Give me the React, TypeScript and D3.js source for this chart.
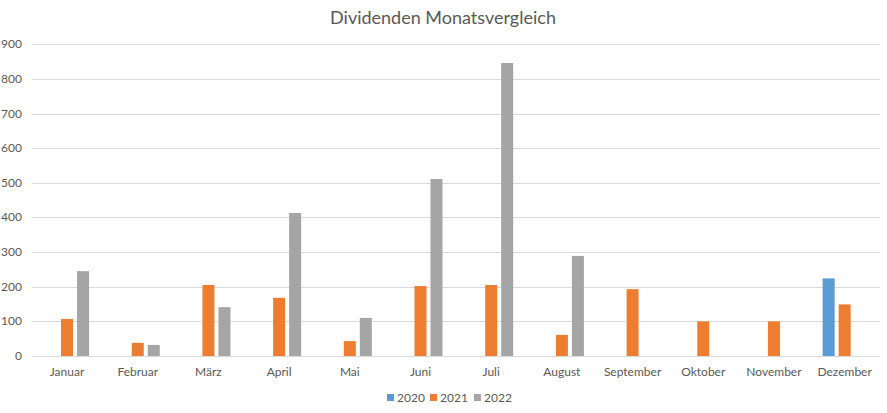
import React from "react";
import * as d3 from "d3";

const months = ["Januar", "Februar", "März", "April", "Mai", "Juni", "Juli", "August", "September", "Oktober", "November", "Dezember"];
const seriesNames = ["2020", "2021", "2022"];
const values2020: (number | null)[] = [null, null, null, null, null, null, null, null, null, null, null, 224];
const values2021: (number | null)[] = [107, 38, 205, 168, 43, 202, 205, 61, 193, 100, 100, 149];
const values2022: (number | null)[] = [245, 32, 141, 413, 110, 511, 846, 289, null, null, null, null];
const yTicks = [0, 100, 200, 300, 400, 500, 600, 700, 800, 900];
const colors = ["#5b9bd5", "#ed7d31", "#a5a5a5"];

const W = 887, H = 413;
const FONT = "Lato, 'Open Sans', sans-serif";

export default function App() {
  const seriesValues = [values2020, values2021, values2022];
  const x0 = d3.scaleBand<string>().domain(months).range([31.7, 880]).paddingInner(0.377).paddingOuter(0.1885);
  const x1 = d3.scaleBand<string>().domain(seriesNames).range([0, x0.bandwidth()]).paddingInner(0.25).paddingOuter(0);
  const y = d3.scaleLinear().domain([0, 900]).range([356, 44.3]);

  return (
    <svg width={W} height={H} style={{ position: "absolute", left: 0, top: 0, background: "#fff" }}>
      <rect x={0} y={0} width={W} height={H} fill="#fff" />
      <text x={443} y={24} textAnchor="middle" fontFamily={FONT} fontSize={18} fill="#595959">Dividenden Monatsvergleich</text>
      {yTicks.map((t) => (
        <g key={t}>
          <line x1={31.7} x2={880} y1={Math.round(y(t)) + 0.5} y2={Math.round(y(t)) + 0.5} stroke="#d9d9d9" strokeWidth={1} />
          <text x={22} y={y(t) + 4} textAnchor="end" fontFamily={FONT} fontSize={12} fill="#595959">{t}</text>
        </g>
      ))}
      {months.map((m, i) => (
        <g key={m}>
          {seriesValues.map((vals, s) => {
            const v = vals[i];
            if (v == null) return null;
            return (
              <rect key={s} x={(x0(m) as number) + (x1(seriesNames[s]) as number)} y={y(v)} width={x1.bandwidth()} height={y(0) - y(v)} fill={colors[s]} />
            );
          })}
          <text x={(x0(m) as number) + x0.bandwidth() / 2} y={376} textAnchor="middle" fontFamily={FONT} fontSize={12} fill="#595959">{m}</text>
        </g>
      ))}
      {seriesNames.map((n, s) => {
        const lx = [387, 430, 474][s];
        return (
          <g key={n}>
            <rect x={lx} y={394} width={7} height={7} fill={colors[s]} />
            <text x={lx + 10} y={401.5} fontFamily={FONT} fontSize={12} fill="#595959">{n}</text>
          </g>
        );
      })}
    </svg>
  );
}
